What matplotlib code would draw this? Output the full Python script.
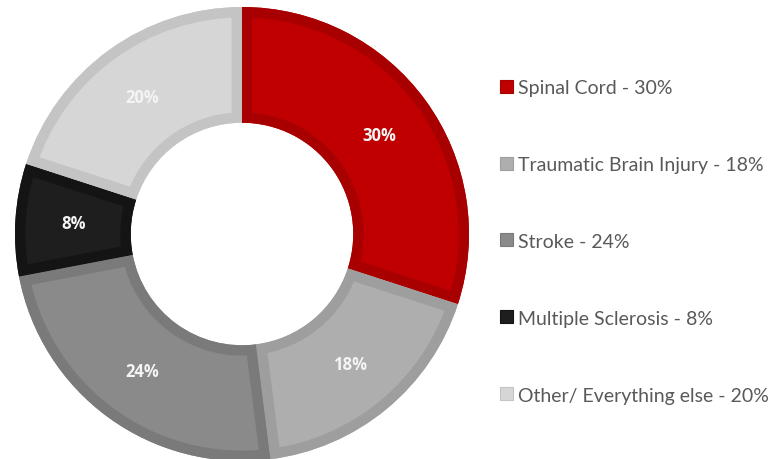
import matplotlib
matplotlib.use("Agg")
import matplotlib.pyplot as plt
from matplotlib.patches import Rectangle, PathPatch
import numpy as np

categories = ["Spinal Cord", "Traumatic Brain Injury", "Stroke", "Multiple Sclerosis", "Other/ Everything else"]
values = [30, 18, 24, 8, 20]
fill_colors = ["#C00000", "#AEAEAE", "#8A8A8A", "#1E1E1E", "#D6D6D6"]
edge_colors = ["#A80000", "#9E9E9E", "#7A7A7A", "#141414", "#C4C4C4"]

W, H = 775, 460
fig = plt.figure(figsize=(W / 100, H / 100), dpi=100)
cx, cy, R = 242, 235, 227
ax = fig.add_axes([(cx - R) / W, (H - cy - R) / H, 2 * R / W, 2 * R / H])

wedges, texts = ax.pie(values, radius=1, startangle=90, counterclock=False,
                       colors=fill_colors,
                       wedgeprops=dict(width=0.51, linewidth=0))
ax.set_xlim(-1, 1)
ax.set_ylim(-1, 1)
ax.set_aspect("equal")
ax.axis("off")
for w, ec in zip(wedges, edge_colors):
    path = w.get_path()
    border = PathPatch(path, facecolor="none", edgecolor=ec, linewidth=15,
                       transform=w.get_transform())
    ax.add_patch(border)
    border.set_clip_path(path, w.get_transform())

for w, v in zip(wedges, values):
    ang = np.deg2rad((w.theta1 + w.theta2) / 2)
    r = 1 - 0.51 / 2
    ax.text(r * np.cos(ang), r * np.sin(ang), f"{v}%", color="#F4F4F4",
            fontsize=12, fontweight="bold", ha="center", va="center",
            family="Open Sans")

handles = [Rectangle((0, 0), 1, 1, facecolor=fc, edgecolor=ec, linewidth=0.8)
           for fc, ec in zip(fill_colors, edge_colors)]
labels = [f"{c} - {v}%" for c, v in zip(categories, values)]
fig.legend(handles, labels, loc="upper left", bbox_to_anchor=(500 / W, 1 - 80 / H),
           frameon=False, prop=dict(family="Lato", size=14), labelcolor="#595959",
           handlelength=0.65, handleheight=0.65, handletextpad=0.3,
           labelspacing=3.08, borderpad=0, borderaxespad=0)

fig.savefig("out.png", dpi=100)
